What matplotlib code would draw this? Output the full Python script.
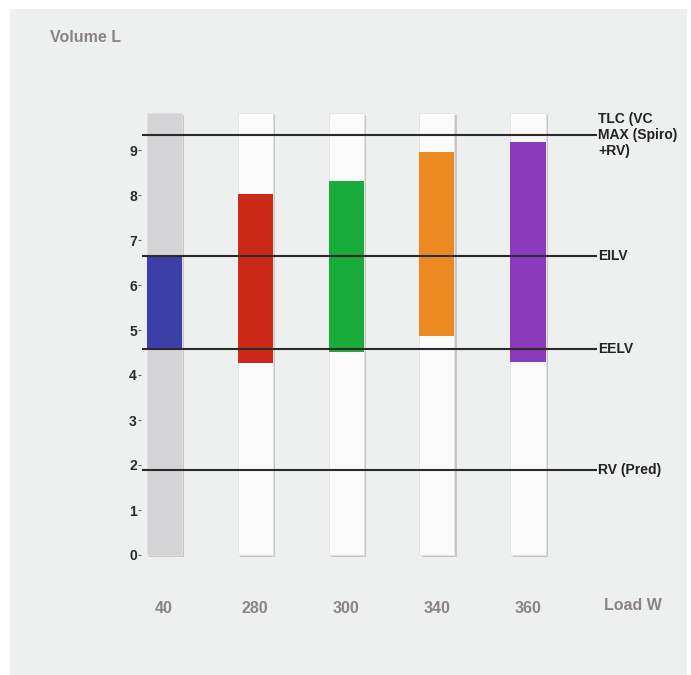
import matplotlib
matplotlib.use("Agg")
import matplotlib.pyplot as plt
import matplotlib.patheffects as pe
from matplotlib.patches import Rectangle

plt.rcParams['font.family'] = ['Liberation Sans', 'DejaVu Sans']

# ---- data ----
loads = ["40", "280", "300", "340", "360"]
tube_top = 9.82
range_low = [4.58, 4.27, 4.51, 4.87, 4.29]
range_high = [6.64, 8.02, 8.31, 8.96, 9.18]
bar_colors = ["#3d3fa8", "#cc2a18", "#1aac3a", "#ec8a22", "#8a3aba"]
tube_colors = ["#d4d4d6", "#fbfbfb", "#fbfbfb", "#fbfbfb", "#fbfbfb"]
ref_levels = [9.33, 6.64, 4.58, 1.89]
ref_labels = ["TLC (VC\nMAX (Spiro)\n+RV)", "EILV", "EELV", "RV (Pred)"]
yticks = list(range(0, 10))

W, H = 691, 675
fig = plt.figure(figsize=(W / 100, H / 100), dpi=100)
fig.patch.set_facecolor("white")
bg = Rectangle((10 / W, 0), 677 / W, (H - 9) / H,
               transform=fig.transFigure, facecolor="#eeefef",
               edgecolor="none", zorder=-10)
fig.patches.append(bg)

# axes occupying pixels x 100..680, y 20..640
ax = fig.add_axes([100 / W, (H - 640) / H, 580 / W, 620 / H])
ax.set_zorder(5)
ax.set_facecolor("none")
x0, dx = 164, 91
y0, dy = 555, 45
ax.set_xlim((100 - x0) / dx, (680 - x0) / dx)
ax.set_ylim((y0 - 640) / dy, (y0 - 20) / dy)

xs = list(range(len(loads)))
bw = 35 / dx
shadow = [pe.SimplePatchShadow(offset=(1.5, -1.5), shadow_rgbFace="#a0a0a0", alpha=0.5), pe.Normal()]
tubes = ax.bar(xs, [tube_top] * len(xs), width=bw, color=tube_colors,
               edgecolor="#e2e2e2", linewidth=0.6, zorder=2)
for p in tubes:
    p.set_path_effects(shadow)
heights = [h - l for h, l in zip(range_high, range_low)]
ax.bar(xs, heights, bottom=range_low, width=bw, color=bar_colors, edgecolor="none", zorder=3)

xmin_l = (142 - x0) / dx
xmax_l = (597 - x0) / dx
ax.hlines(ref_levels, xmin_l, xmax_l, colors="#2a2a2a", linewidth=1.5, zorder=4)
for lv, lab in zip(ref_levels, ref_labels):
    ax.text(xmax_l + 0.01, lv, lab, ha="left", va="center", fontsize=10,
            fontweight="bold", color="#222222", linespacing=1.2, zorder=5)

# y axis
for s in ax.spines.values():
    s.set_visible(False)
ax.spines['left'].set_position(('data', (141 - x0) / dx))
ax.set_yticks(yticks)
ax.set_yticklabels([str(t) for t in yticks], fontsize=10, fontweight="bold", color="#2a2a2a")
ax.tick_params(axis="y", length=2, width=0.8, color="#666666", pad=1)

# x axis
ax.spines['bottom'].set_position(('data', (y0 - 597) / dy))
ax.set_xticks(xs)
ax.set_xticklabels(loads, fontsize=11.5, color="#8a8484", fontweight="bold")
ax.tick_params(axis="x", length=0, pad=3)
ax.text((633 - x0) / dx, (y0 - 606) / dy, "Load W", ha="center", va="center",
        fontsize=11.5, fontweight="bold", color="#8a8484")

fig.text(50 / W, 1 - 37 / H, "Volume L", ha="left", va="center", fontsize=11.5,
         fontweight="bold", color="#8a8484")

fig.savefig("out.png", dpi=100, facecolor=fig.get_facecolor())
